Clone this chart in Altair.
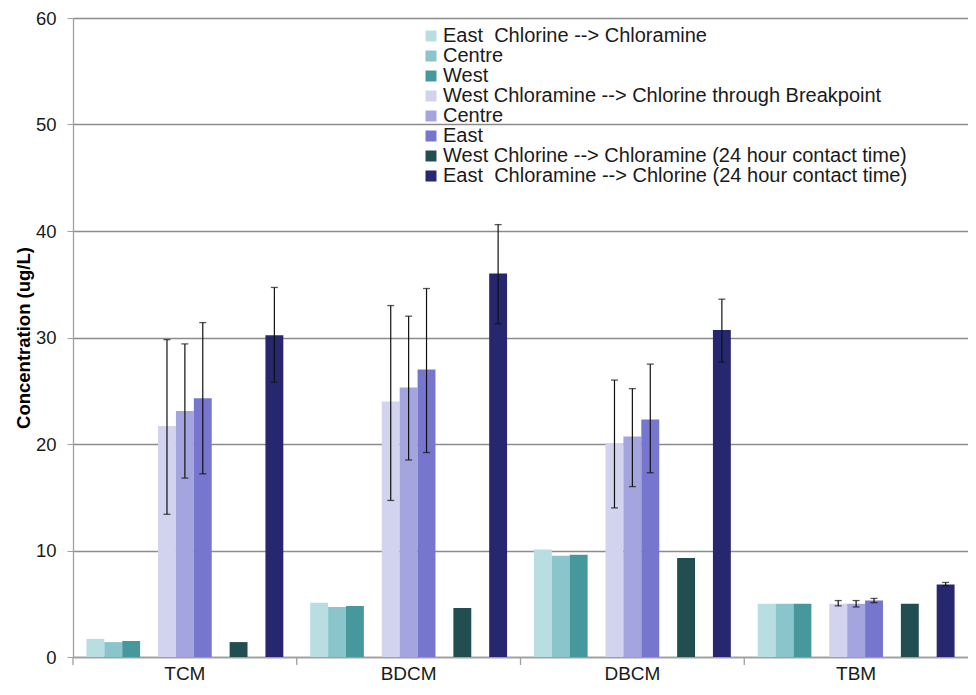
import altair as alt
import pandas as pd

categories = ["TCM", "BDCM", "DBCM", "TBM"]
series_ids = ["S1", "S2", "S3", "S4", "S5", "S6", "S7", "S8"]
series_labels = [
    "East\u00a0 Chlorine --> Chloramine",
    "Centre",
    "West",
    "West Chloramine --> Chlorine through Breakpoint",
    "Centre",
    "East",
    "West Chlorine --> Chloramine (24 hour contact time)",
    "East\u00a0 Chloramine --> Chlorine (24 hour contact time)",
]
series_slots = ["1", "2", "3", "5", "6", "7", "9", "11"]
slot_domain = [str(i) for i in range(1, 12)]
colors = ["#b9dee2", "#8ac5cc", "#46989c", "#d2d3ee", "#a4a4de", "#7776cf", "#234e51", "#27276f"]

# values per series, one per category (TCM, BDCM, DBCM, TBM)
values = {
    "S1": [1.7, 5.1, 10.1, 5.0],
    "S2": [1.4, 4.7, 9.5, 5.0],
    "S3": [1.5, 4.8, 9.6, 5.0],
    "S4": [21.7, 24.0, 20.1, 5.0],
    "S5": [23.1, 25.3, 20.7, 5.0],
    "S6": [24.3, 27.0, 22.3, 5.3],
    "S7": [1.4, 4.6, 9.3, 5.0],
    "S8": [30.2, 36.0, 30.7, 6.8],
}
err_low = {
    "S4": [13.4, 14.7, 14.0, 4.8],
    "S5": [16.8, 18.5, 16.0, 4.7],
    "S6": [17.2, 19.2, 17.3, 5.1],
    "S8": [25.8, 31.3, 27.7, 6.7],
}
err_high = {
    "S4": [29.8, 33.0, 26.0, 5.3],
    "S5": [29.4, 32.0, 25.2, 5.3],
    "S6": [31.4, 34.6, 27.5, 5.5],
    "S8": [34.7, 40.6, 33.6, 7.0],
}

rows = []
for sid, slot in zip(series_ids, series_slots):
    for i, cat in enumerate(categories):
        rows.append({
            "cat": cat,
            "series": sid,
            "slot": slot,
            "value": values[sid][i],
            "lo": err_low[sid][i] if sid in err_low else None,
            "hi": err_high[sid][i] if sid in err_high else None,
        })
df = pd.DataFrame(rows)
df_err = df.dropna(subset=["lo", "hi"])

FONT = "Liberation Sans"
W, H = 895, 639

label_map = "{" + ",".join(f"'{s}':'{l}'" for s, l in zip(series_ids, series_labels)) + "}"

x_enc = alt.X("cat:N", sort=categories, title=None,
              scale=alt.Scale(domain=categories, paddingInner=0, paddingOuter=0),
              axis=alt.Axis(labelAngle=0, ticks=False, labelPadding=7, labelFontSize=19,
                            labelFont=FONT, labelColor="#1a1a1a", domainColor="#a0a0a0",
                            domainWidth=1.3))
xo_enc = alt.XOffset("slot:N", scale=alt.Scale(domain=slot_domain, paddingInner=0, paddingOuter=0.75))
y_scale = alt.Scale(domain=[0, 60], nice=False)

bars = alt.Chart(df).mark_bar().encode(
    x=x_enc,
    xOffset=xo_enc,
    y=alt.Y("value:Q", scale=y_scale, title="Concentration (ug/L)",
            axis=alt.Axis(values=[0, 10, 20, 30, 40, 50, 60], grid=True, gridColor="#8c8c8c",
                          gridWidth=1.3, domainColor="#a0a0a0", domainWidth=1.3,
                          tickColor="#a0a0a0", tickSize=6, labelPadding=11,
                          labelFontSize=18.5, labelFont=FONT, labelColor="#1a1a1a",
                          titleFont=FONT, titleFontSize=18.5, titleFontWeight="bold",
                          titleColor="#000000", titlePadding=2)),
    color=alt.Color("series:N",
                    scale=alt.Scale(domain=series_ids, range=colors),
                    legend=alt.Legend(title=None, orient="none", legendX=348, legendY=8,
                                      labelExpr=label_map + "[datum.value]",
                                      symbolType="square", symbolSize=121, symbolStrokeWidth=0,
                                      labelFont=FONT, labelFontSize=20, labelColor="#1a1a1a",
                                      labelOffset=2, rowPadding=-1.4, labelLimit=700)),
)

err_rule = alt.Chart(df_err).mark_rule(color="#111111", strokeWidth=1.2).encode(
    x=alt.X("cat:N", sort=categories), xOffset=alt.XOffset("slot:N"),
    y=alt.Y("lo:Q"), y2="hi:Q",
)
cap_lo = alt.Chart(df_err).mark_tick(color="#111111", thickness=1.3, size=7, orient="horizontal").encode(
    x=alt.X("cat:N", sort=categories), xOffset=alt.XOffset("slot:N"), y=alt.Y("lo:Q"),
)
cap_hi = alt.Chart(df_err).mark_tick(color="#111111", thickness=1.3, size=7, orient="horizontal").encode(
    x=alt.X("cat:N", sort=categories), xOffset=alt.XOffset("slot:N"), y=alt.Y("hi:Q"),
)
xticks = alt.Chart(pd.DataFrame({"cat": categories})).mark_rule(color="#a0a0a0", strokeWidth=1.3).encode(
    x=alt.X("cat:N", sort=categories, bandPosition=0),
    y=alt.value(H), y2=alt.value(H + 8),
)

chart = alt.layer(bars, err_rule, cap_lo, cap_hi, xticks).properties(
    width=W, height=H,
    autosize=alt.AutoSizeParams(type="none"),
    padding={"left": 65, "top": 10, "right": 0, "bottom": 25},
).configure_view(stroke=None).configure(background="white")

chart.save("out.html", embed_options={"renderer": "svg", "actions": False})
